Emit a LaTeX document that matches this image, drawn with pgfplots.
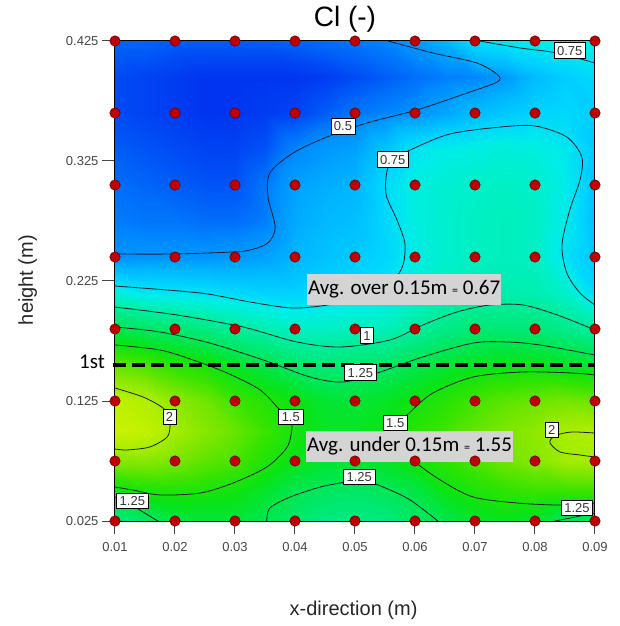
\documentclass[border=0pt]{standalone}
\usepackage{fontspec}
\setmainfont{Liberation Sans}
\newfontfamily\carlito{Carlito}
\usepackage{pgfplots}
\pgfplotsset{compat=1.18}

\definecolor{dotred}{RGB}{190,0,0}
\definecolor{dotedge}{RGB}{105,0,0}
\definecolor{boxgray}{RGB}{212,212,212}
\definecolor{tickgray}{RGB}{70,70,70}
\definecolor{isoline}{RGB}{30,30,45}

\pgfplotsset{
  colormap={clmap}{
    rgb255(38pt)=(0,45,238)
    rgb255(42pt)=(0,75,245)
    rgb255(46pt)=(0,110,250)
    rgb255(50pt)=(0,140,255)
    rgb255(60pt)=(0,182,255)
    rgb255(70pt)=(0,212,255)
    rgb255(80pt)=(0,237,232)
    rgb255(90pt)=(0,240,195)
    rgb255(100pt)=(0,237,160)
    rgb255(115pt)=(0,233,118)
    rgb255(130pt)=(0,230,70)
    rgb255(145pt)=(10,228,20)
    rgb255(160pt)=(50,228,0)
    rgb255(180pt)=(120,230,0)
    rgb255(200pt)=(175,238,0)
    rgb255(220pt)=(210,245,0)
  }
}

\tikzset{
  clab/.style={fill=white, draw=black, line width=0.6pt, inner sep=3pt,
    font=\fontsize{13}{13}\selectfont, text=black!80,
    text height=9.4pt, text depth=0pt},
  avgbox/.style={fill=boxgray, inner xsep=1pt, inner ysep=5.5pt,
    text height=15pt, text depth=5pt,
    font=\carlito\fontsize{21}{21}\selectfont},
}
\newcommand{\smalleq}{{\fontsize{12}{12}\selectfont =}}

\begin{document}
\begin{tikzpicture}
\begin{axis}[
  at={(0pt,0pt)}, anchor=south west,
  scale only axis, width=480pt, height=480pt,
  xmin=0.01, xmax=0.09, ymin=0.025, ymax=0.425,
  enlargelimits=false, clip=false,
  scaled x ticks=false, scaled y ticks=false,
  colormap name=clmap, point meta min=0.38, point meta max=2.2,
  xtick={0.01,0.02,0.03,0.04,0.05,0.06,0.07,0.08,0.09},
  xticklabels={0.01,0.02,0.03,0.04,0.05,0.06,0.07,0.08,0.09},
  ytick={0.025,0.125,0.225,0.325,0.425},
  yticklabels={0.025,0.125,0.225,0.325,0.425},
  tick align=outside, xtick pos=bottom, ytick pos=left,
  major tick length=13pt,
  every tick/.style={line width=1pt, draw=tickgray},
  tick label style={font=\fontsize{13}{13}\selectfont, text=tickgray},
  xticklabel style={yshift=-5pt},
  axis line style={line width=1pt},
  title={Cl (-)},
  title style={at={(0.479,1)}, anchor=base, yshift=8pt, inner sep=0pt,
    font=\fontsize{28}{28}\selectfont},
  xlabel={x-direction (m)},
  xlabel style={at={(0.497,0)}, anchor=base, yshift=-94pt, inner sep=0pt,
    font=\fontsize{20}{20}\selectfont, text=black!85},
  ylabel={height (m)},
  ylabel style={at={(0,0.502)}, anchor=base, yshift=82pt, inner sep=0pt,
    font=\fontsize{20}{20}\selectfont, text=black!85},
]

% interpolated Cl field
\addplot[surf, shader=interp, mesh/cols=17, point meta=explicit]
  table[x=x, y=y, meta=c] {
x y c
0.010 0.025 1.10
0.015 0.025 1.20
0.020 0.025 1.30
0.025 0.025 1.33
0.030 0.025 1.33
0.035 0.025 1.26
0.040 0.025 1.18
0.045 0.025 1.12
0.050 0.025 1.10
0.055 0.025 1.12
0.060 0.025 1.20
0.065 0.025 1.28
0.070 0.025 1.38
0.075 0.025 1.42
0.080 0.025 1.38
0.085 0.025 1.23
0.090 0.025 1.22

0.010 0.050 1.42
0.015 0.050 1.51
0.020 0.050 1.53
0.025 0.050 1.51
0.030 0.050 1.47
0.035 0.050 1.38
0.040 0.050 1.27
0.045 0.050 1.22
0.050 0.050 1.20
0.055 0.050 1.24
0.060 0.050 1.30
0.065 0.050 1.45
0.070 0.050 1.52
0.075 0.050 1.58
0.080 0.050 1.62
0.085 0.050 1.62
0.090 0.050 1.62

0.010 0.075 1.84
0.015 0.075 1.85
0.020 0.075 1.80
0.025 0.075 1.72
0.030 0.075 1.66
0.035 0.075 1.53
0.040 0.075 1.43
0.045 0.075 1.37
0.050 0.075 1.36
0.055 0.075 1.40
0.060 0.075 1.49
0.065 0.075 1.58
0.070 0.075 1.68
0.075 0.075 1.78
0.080 0.075 1.85
0.085 0.075 1.95
0.090 0.075 1.97

0.010 0.100 2.15
0.015 0.100 2.10
0.020 0.100 1.96
0.025 0.100 1.85
0.030 0.100 1.75
0.035 0.100 1.62
0.040 0.100 1.49
0.045 0.100 1.40
0.050 0.100 1.40
0.055 0.100 1.46
0.060 0.100 1.56
0.065 0.100 1.64
0.070 0.100 1.74
0.075 0.100 1.82
0.080 0.100 1.88
0.085 0.100 1.98
0.090 0.100 2.00

0.010 0.125 2.08
0.015 0.125 2.02
0.020 0.125 1.88
0.025 0.125 1.78
0.030 0.125 1.63
0.035 0.125 1.55
0.040 0.125 1.46
0.045 0.125 1.36
0.050 0.125 1.35
0.055 0.125 1.40
0.060 0.125 1.48
0.065 0.125 1.56
0.070 0.125 1.65
0.075 0.125 1.72
0.080 0.125 1.76
0.085 0.125 1.80
0.090 0.125 1.76

0.010 0.155 1.73
0.015 0.155 1.67
0.020 0.155 1.57
0.025 0.155 1.51
0.030 0.155 1.39
0.035 0.155 1.29
0.040 0.155 1.19
0.045 0.155 1.14
0.050 0.155 1.17
0.055 0.155 1.20
0.060 0.155 1.28
0.065 0.155 1.35
0.070 0.155 1.41
0.075 0.155 1.44
0.080 0.155 1.44
0.085 0.155 1.40
0.090 0.155 1.37

0.010 0.185 1.28
0.015 0.185 1.22
0.020 0.185 1.17
0.025 0.185 1.11
0.030 0.185 1.03
0.035 0.185 0.96
0.040 0.185 0.90
0.045 0.185 0.90
0.050 0.185 0.92
0.055 0.185 0.93
0.060 0.185 1.01
0.065 0.185 1.10
0.070 0.185 1.16
0.075 0.185 1.16
0.080 0.185 1.15
0.085 0.185 1.08
0.090 0.185 1.00

0.010 0.215 0.83
0.015 0.215 0.77
0.020 0.215 0.76
0.025 0.215 0.745
0.030 0.215 0.72
0.035 0.215 0.70
0.040 0.215 0.69
0.045 0.215 0.72
0.050 0.215 0.74
0.055 0.215 0.77
0.060 0.215 0.86
0.065 0.215 0.92
0.070 0.215 0.95
0.075 0.215 0.96
0.080 0.215 0.95
0.085 0.215 0.88
0.090 0.215 0.72

0.010 0.245 0.51
0.015 0.245 0.52
0.020 0.245 0.52
0.025 0.245 0.52
0.030 0.245 0.53
0.035 0.245 0.55
0.040 0.245 0.60
0.045 0.245 0.64
0.050 0.245 0.67
0.055 0.245 0.71
0.060 0.245 0.81
0.065 0.245 0.87
0.070 0.245 0.90
0.075 0.245 0.92
0.080 0.245 0.90
0.085 0.245 0.75
0.090 0.245 0.65

0.010 0.275 0.48
0.015 0.275 0.47
0.020 0.275 0.47
0.025 0.275 0.46
0.030 0.275 0.46
0.035 0.275 0.48
0.040 0.275 0.57
0.045 0.275 0.61
0.050 0.275 0.63
0.055 0.275 0.71
0.060 0.275 0.82
0.065 0.275 0.87
0.070 0.275 0.90
0.075 0.275 0.92
0.080 0.275 0.90
0.085 0.275 0.79
0.090 0.275 0.63

0.010 0.305 0.46
0.015 0.305 0.45
0.020 0.305 0.44
0.025 0.305 0.43
0.030 0.305 0.43
0.035 0.305 0.47
0.040 0.305 0.55
0.045 0.305 0.58
0.050 0.305 0.60
0.055 0.305 0.72
0.060 0.305 0.82
0.065 0.305 0.86
0.070 0.305 0.88
0.075 0.305 0.90
0.080 0.305 0.88
0.085 0.305 0.80
0.090 0.305 0.64

0.010 0.335 0.44
0.015 0.335 0.43
0.020 0.335 0.42
0.025 0.335 0.41
0.030 0.335 0.41
0.035 0.335 0.43
0.040 0.335 0.49
0.045 0.335 0.53
0.050 0.335 0.55
0.055 0.335 0.64
0.060 0.335 0.76
0.065 0.335 0.80
0.070 0.335 0.82
0.075 0.335 0.84
0.080 0.335 0.83
0.085 0.335 0.78
0.090 0.335 0.66

0.010 0.365 0.42
0.015 0.365 0.41
0.020 0.365 0.40
0.025 0.365 0.39
0.030 0.365 0.39
0.035 0.365 0.40
0.040 0.365 0.41
0.045 0.365 0.44
0.050 0.365 0.47
0.055 0.365 0.49
0.060 0.365 0.51
0.065 0.365 0.56
0.070 0.365 0.62
0.075 0.365 0.66
0.080 0.365 0.70
0.085 0.365 0.72
0.090 0.365 0.68

0.010 0.395 0.42
0.015 0.395 0.41
0.020 0.395 0.40
0.025 0.395 0.39
0.030 0.395 0.39
0.035 0.395 0.39
0.040 0.395 0.39
0.045 0.395 0.40
0.050 0.395 0.42
0.055 0.395 0.44
0.060 0.395 0.46
0.065 0.395 0.48
0.070 0.395 0.49
0.075 0.395 0.53
0.080 0.395 0.62
0.085 0.395 0.68
0.090 0.395 0.72

0.010 0.425 0.45
0.015 0.425 0.45
0.020 0.425 0.44
0.025 0.425 0.44
0.030 0.425 0.44
0.035 0.425 0.44
0.040 0.425 0.45
0.045 0.425 0.46
0.050 0.425 0.47
0.055 0.425 0.49
0.060 0.425 0.53
0.065 0.425 0.60
0.070 0.425 0.74
0.075 0.425 0.77
0.080 0.425 0.80
0.085 0.425 0.81
0.090 0.425 0.82
};

% frame over the field
\draw[line width=1pt, black] (rel axis cs:0,0) rectangle (rel axis cs:1,1);

% isolines
\addplot[isoline, line width=0.8pt, smooth, tension=0.5] coordinates {
 (0.0555,0.4250) (0.0630,0.4150) (0.0703,0.4067) (0.0738,0.3967) (0.0737,0.3908)
 (0.0687,0.3817) (0.0603,0.3675) (0.0520,0.3567) (0.0453,0.3450) (0.0397,0.3317)
 (0.0358,0.3150) (0.0355,0.2950) (0.0367,0.2700) (0.0355,0.2567) (0.0325,0.2508)
 (0.0297,0.2492) (0.0197,0.2475) (0.0100,0.2475)};
\addplot[isoline, line width=0.8pt, smooth, tension=0.5] coordinates {
 (0.0708,0.4250) (0.0775,0.4192) (0.0837,0.4150) (0.0900,0.4067)};
\addplot[isoline, line width=0.8pt, smooth, tension=0.5] coordinates {
 (0.0100,0.2208) (0.0242,0.2150) (0.0325,0.2075) (0.0397,0.2025) (0.0463,0.2058)
 (0.0520,0.2150) (0.0563,0.2258) (0.0580,0.2383) (0.0583,0.2567) (0.0570,0.2758)
 (0.0552,0.2967) (0.0553,0.3158) (0.0563,0.3258) (0.0592,0.3342) (0.0658,0.3475)
 (0.0742,0.3533) (0.0800,0.3542) (0.0853,0.3450) (0.0878,0.3283) (0.0875,0.3092)
 (0.0858,0.2842) (0.0845,0.2550) (0.0853,0.2317) (0.0875,0.2150) (0.0900,0.2050)};
\addplot[isoline, line width=0.8pt, smooth, tension=0.5] coordinates {
 (0.0100,0.2033) (0.0203,0.1967) (0.0313,0.1867) (0.0403,0.1742) (0.0475,0.1700)
 (0.0558,0.1758) (0.0613,0.1883) (0.0670,0.1992) (0.0725,0.2050) (0.0780,0.2050)
 (0.0837,0.1967) (0.0900,0.1842)};
\addplot[isoline, line width=0.8pt, smooth, tension=0.5] coordinates {
 (0.0100,0.1867) (0.0175,0.1825) (0.0258,0.1733) (0.0347,0.1592) (0.0425,0.1450)
 (0.0480,0.1408) (0.0537,0.1483) (0.0613,0.1617) (0.0697,0.1733) (0.0753,0.1742)
 (0.0808,0.1717) (0.0900,0.1633)};
\addplot[isoline, line width=0.8pt, smooth, tension=0.5] coordinates {
 (0.0100,0.1717) (0.0175,0.1675) (0.0230,0.1592) (0.0287,0.1483) (0.0342,0.1342)
 (0.0375,0.1175) (0.0392,0.1108) (0.0395,0.1033) (0.0387,0.0867) (0.0353,0.0700)
 (0.0297,0.0567) (0.0242,0.0483) (0.0175,0.0467) (0.0130,0.0508) (0.0100,0.0533)};
\addplot[isoline, line width=0.8pt, smooth, tension=0.5] coordinates {
 (0.0100,0.1358) (0.0147,0.1283) (0.0180,0.1192) (0.0192,0.1108) (0.0192,0.1050)
 (0.0187,0.0950) (0.0158,0.0867) (0.0120,0.0842) (0.0100,0.0850)};
\addplot[isoline, line width=0.8pt, smooth, tension=0.5] coordinates {
 (0.0100,0.0450) (0.0130,0.0375) (0.0163,0.0275) (0.0172,0.0250)};
\addplot[isoline, line width=0.8pt, smooth, tension=0.5] coordinates {
 (0.0353,0.0250) (0.0358,0.0358) (0.0392,0.0450) (0.0442,0.0533) (0.0483,0.0575)
 (0.0505,0.0608) (0.0547,0.0533) (0.0592,0.0425) (0.0638,0.0250)};
\addplot[isoline, line width=0.8pt, smooth, tension=0.5] coordinates {
 (0.0900,0.1467) (0.0863,0.1483) (0.0780,0.1492) (0.0697,0.1450) (0.0630,0.1317)
 (0.0592,0.1158) (0.0572,0.1050) (0.0575,0.0925) (0.0597,0.0758) (0.0642,0.0592)
 (0.0697,0.0450) (0.0770,0.0400) (0.0842,0.0383) (0.0900,0.0400)};
\addplot[isoline, line width=0.8pt, smooth, tension=0.5] coordinates {
 (0.0900,0.0983) (0.0863,0.0992) (0.0842,0.0975) (0.0830,0.0950) (0.0825,0.0900)
 (0.0842,0.0825) (0.0875,0.0800) (0.0900,0.0783)};
\addplot[isoline, line width=0.8pt, smooth, tension=0.5] coordinates {
 (0.0833,0.0250) (0.0867,0.0283) (0.0900,0.0317)};

% 1st layer boundary
\addplot[black, line width=3.2pt, dash pattern=on 13pt off 6pt] coordinates {
 (0.0097,0.155) (0.09,0.155)};

% isoline labels
\node[clab] at (axis cs:0.0480,0.3540) {0.5};
\node[clab] at (axis cs:0.0858,0.4171) {0.75};
\node[clab] at (axis cs:0.0563,0.3263) {0.75};
\node[clab] at (axis cs:0.0520,0.1796) {1};
\node[clab] at (axis cs:0.0509,0.1488) {1.25};
\node[clab] at (axis cs:0.0393,0.1117) {1.5};
\node[clab] at (axis cs:0.0191,0.1117) {2};
\node[clab] at (axis cs:0.0129,0.0417) {1.25};
\node[clab] at (axis cs:0.0507,0.0617) {1.25};
\node[clab] at (axis cs:0.0567,0.1067) {1.5};
\node[clab] at (axis cs:0.0828,0.1012) {2};
\node[clab] at (axis cs:0.0870,0.0358) {1.25};

% sampling points
\addplot[only marks, mark=*, mark size=5.2pt,
  mark options={fill=dotred, draw=dotedge, line width=0.6pt}] coordinates {
 (0.01,0.025) (0.02,0.025) (0.03,0.025) (0.04,0.025) (0.05,0.025) (0.06,0.025) (0.07,0.025) (0.08,0.025) (0.09,0.025)
 (0.01,0.075) (0.02,0.075) (0.03,0.075) (0.04,0.075) (0.05,0.075) (0.06,0.075) (0.07,0.075) (0.08,0.075) (0.09,0.075)
 (0.01,0.125) (0.02,0.125) (0.03,0.125) (0.04,0.125) (0.05,0.125) (0.06,0.125) (0.07,0.125) (0.08,0.125) (0.09,0.125)
 (0.01,0.185) (0.02,0.185) (0.03,0.185) (0.04,0.185) (0.05,0.185) (0.06,0.185) (0.07,0.185) (0.08,0.185) (0.09,0.185)
 (0.01,0.245) (0.02,0.245) (0.03,0.245) (0.04,0.245) (0.05,0.245) (0.06,0.245) (0.07,0.245) (0.08,0.245) (0.09,0.245)
 (0.01,0.305) (0.02,0.305) (0.03,0.305) (0.04,0.305) (0.05,0.305) (0.06,0.305) (0.07,0.305) (0.08,0.305) (0.09,0.305)
 (0.01,0.365) (0.02,0.365) (0.03,0.365) (0.04,0.365) (0.05,0.365) (0.06,0.365) (0.07,0.365) (0.08,0.365) (0.09,0.365)
 (0.01,0.425) (0.02,0.425) (0.03,0.425) (0.04,0.425) (0.05,0.425) (0.06,0.425) (0.07,0.425) (0.08,0.425) (0.09,0.425)
};

% averages above and below the first layer
\node[avgbox] at (axis cs:0.0582,0.2179) {Avg. over 0.15m \smalleq{} 0.67};
\node[avgbox] at (axis cs:0.0591,0.0867) {Avg. under 0.15m \smalleq{} 1.55};

\node[anchor=base east, xshift=-10pt, inner sep=0pt,
  font=\carlito\fontsize{21}{21}\selectfont] at (axis cs:0.01,0.1517) {1st};
\end{axis}
\pgfresetboundingbox
\path[use as bounding box] (-115pt,-105pt) rectangle (504pt,521pt);
\end{tikzpicture}
\end{document}
